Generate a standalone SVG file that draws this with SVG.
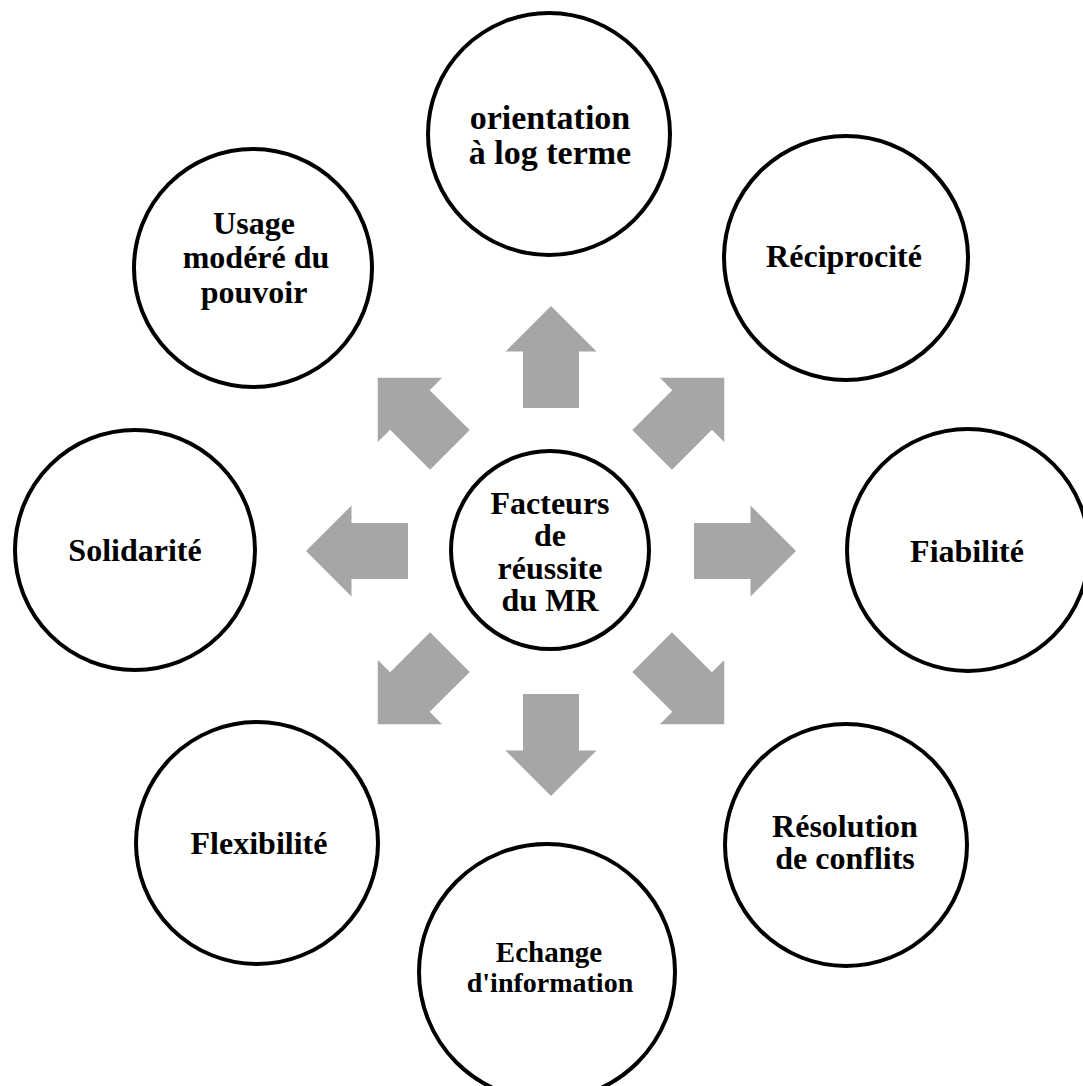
<svg xmlns="http://www.w3.org/2000/svg" xmlns:xlink="http://www.w3.org/1999/xlink" width="1083" height="1086" viewBox="0 0 1083 1086">
<style>
.node circle{fill:#fff;stroke:#000;stroke-width:4}
.node text{font-family:"Liberation Serif","Times New Roman",serif;font-weight:bold;font-size:32px;fill:#000;text-anchor:middle}
.arrow{fill:#a6a6a6}
</style>
<defs>
<path id="arr" class="arrow" d="M0,-51 L45.5,-5.5 L28,-5.5 L28,51 L-28,51 L-28,-5.5 L-45.5,-5.5 Z"/>
</defs>
<rect width="1083" height="1086" fill="#fff"/>
<g id="connectors">
<use xlink:href="#arr" href="#arr" transform="translate(551 551) rotate(0) translate(0 -194)"/>
<use xlink:href="#arr" href="#arr" transform="translate(551 551) rotate(45) translate(0 -194)"/>
<use xlink:href="#arr" href="#arr" transform="translate(551 551) rotate(90) translate(0 -194)"/>
<use xlink:href="#arr" href="#arr" transform="translate(551 551) rotate(135) translate(0 -194)"/>
<use xlink:href="#arr" href="#arr" transform="translate(551 551) rotate(180) translate(0 -194)"/>
<use xlink:href="#arr" href="#arr" transform="translate(551 551) rotate(225) translate(0 -194)"/>
<use xlink:href="#arr" href="#arr" transform="translate(551 551) rotate(270) translate(0 -194)"/>
<use xlink:href="#arr" href="#arr" transform="translate(551 551) rotate(315) translate(0 -194)"/>
</g>
<g id="center" class="node">
<circle cx="550" cy="550" r="99"/>
<text x="550" y="514">Facteurs</text>
<text x="550" y="546">de</text>
<text x="550" y="579">réussite</text>
<text x="550" y="611">du MR</text>
</g>
<g id="orientation" class="node">
<circle cx="549" cy="134" r="121"/>
<text x="550" y="129" style="font-size:34px">orientation</text>
<text x="550" y="164" style="font-size:34px">à log terme</text>
</g>
<g id="reciprocite" class="node">
<circle cx="846" cy="258" r="122"/>
<text x="844" y="267">Réciprocité</text>
</g>
<g id="fiabilite" class="node">
<circle cx="968" cy="550" r="121"/>
<text x="967" y="562">Fiabilité</text>
</g>
<g id="resolution" class="node">
<circle cx="846" cy="845" r="121"/>
<text x="845" y="837">Résolution</text>
<text x="845" y="869">de conflits</text>
</g>
<g id="echange" class="node">
<circle cx="547" cy="972" r="128"/>
<text x="549" y="962" style="font-size:29px">Echange</text>
<text x="550" y="992" style="font-size:28px">d'information</text>
</g>
<g id="flexibilite" class="node">
<circle cx="257" cy="843" r="121"/>
<text x="259" y="854">Flexibilité</text>
</g>
<g id="solidarite" class="node">
<circle cx="135" cy="550" r="120"/>
<text x="135" y="561">Solidarité</text>
</g>
<g id="usage" class="node">
<circle cx="253" cy="268" r="119"/>
<text x="254" y="234">Usage</text>
<text x="256" y="268">modéré du</text>
<text x="254" y="303">pouvoir</text>
</g>
</svg>
